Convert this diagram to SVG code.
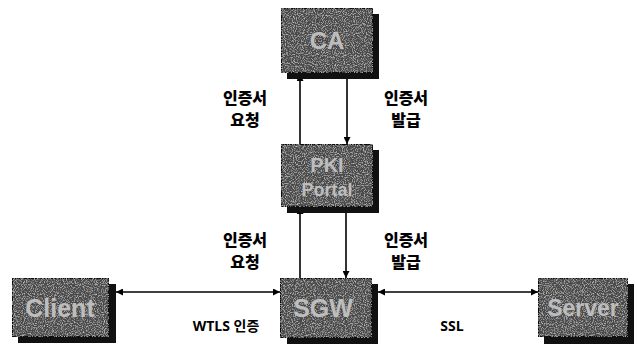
<svg xmlns="http://www.w3.org/2000/svg" width="637" height="358" viewBox="0 0 637 358">
<style>
.shadow{fill:#111}
.box{fill:#4a4a4a;stroke:#111;stroke-width:2}
.noise{fill:#4a4a4a;filter:url(#grain)}
.nt{font-family:"Liberation Sans","DejaVu Sans",sans-serif;font-weight:bold;fill:#bdbdbd;text-anchor:middle}
.lbl{font-family:"Noto Sans CJK KR","Noto Sans",sans-serif;font-weight:900;font-size:16px;fill:#000;text-anchor:middle}
.el{font-family:"Open Sans","Noto Sans CJK KR",sans-serif;font-weight:bold;font-size:14px;fill:#000;text-anchor:middle}
.ln{stroke:#000;stroke-width:1.6;fill:none}
</style>
<defs>
<filter id="grain" x="0" y="0" width="100%" height="100%">
<feTurbulence type="fractalNoise" baseFrequency="0.9" numOctaves="2" seed="3" result="t"/>
<feColorMatrix in="t" type="matrix" values="0 0 0 0 0.85  0 0 0 0 0.85  0 0 0 0 0.85  0 0 0 1.6 -0.75" result="c"/>
<feComposite in="c" in2="SourceGraphic" operator="in" result="d"/>
<feMerge><feMergeNode in="SourceGraphic"/><feMergeNode in="d"/></feMerge>
</filter>
<marker id="ah" viewBox="0 0 10 10" refX="10" refY="5" markerWidth="7" markerHeight="7" orient="auto-start-reverse" markerUnits="userSpaceOnUse">
<path d="M0,0 L10,5 L0,10 z" fill="#000"/>
</marker>
</defs>
<g id="connectors">
<line class="ln" x1="300" y1="144" x2="300" y2="74" marker-end="url(#ah)"/>
<line class="ln" x1="347" y1="74" x2="347" y2="144" marker-end="url(#ah)"/>
<line class="ln" x1="300" y1="278" x2="300" y2="207" marker-end="url(#ah)"/>
<line class="ln" x1="346" y1="212" x2="346" y2="278" marker-end="url(#ah)"/>
<line class="ln" x1="116" y1="292" x2="280" y2="292" marker-start="url(#ah)" marker-end="url(#ah)"/>
<line class="ln" x1="378" y1="292" x2="538" y2="292" marker-start="url(#ah)" marker-end="url(#ah)"/>
<text class="lbl" x="245" y="104">인증서</text>
<text class="lbl" x="245" y="126">요청</text>
<text class="lbl" x="406" y="104">인증서</text>
<text class="lbl" x="406" y="126">발급</text>
<text class="lbl" x="245" y="246">인증서</text>
<text class="lbl" x="245" y="268">요청</text>
<text class="lbl" x="406" y="246">인증서</text>
<text class="lbl" x="406" y="268">발급</text>
<text class="el" x="226" y="331">WTLS 인증</text>
<text class="el" x="452" y="331">SSL</text>
</g>
<g id="ca">
<rect class="shadow" x="287" y="14" width="92" height="65"/>
<rect class="box noise" x="281" y="8" width="92" height="65"/>
<text class="nt" x="327" y="49" font-size="24">CA</text>
</g>
<g id="pki">
<rect class="shadow" x="287" y="150" width="92" height="63"/>
<rect class="box noise" x="281" y="144" width="92" height="63"/>
<text class="nt" x="327" y="172" font-size="20">PKI</text>
<text class="nt" x="327" y="196" font-size="18">Portal</text>
</g>
<g id="client">
<rect class="shadow" x="18" y="284" width="98" height="59"/>
<rect class="box noise" x="12" y="278" width="97" height="59"/>
<text class="nt" x="60" y="317" font-size="25">Client</text>
</g>
<g id="sgw">
<rect class="shadow" x="287" y="284" width="91" height="60"/>
<rect class="box noise" x="280" y="278" width="92" height="60"/>
<text class="nt" x="323" y="317" font-size="25">SGW</text>
</g>
<g id="server">
<rect class="shadow" x="544" y="284" width="90" height="60"/>
<rect class="box noise" x="538" y="278" width="90" height="59"/>
<text class="nt" x="583" y="316" font-size="23">Server</text>
</g>
</svg>
